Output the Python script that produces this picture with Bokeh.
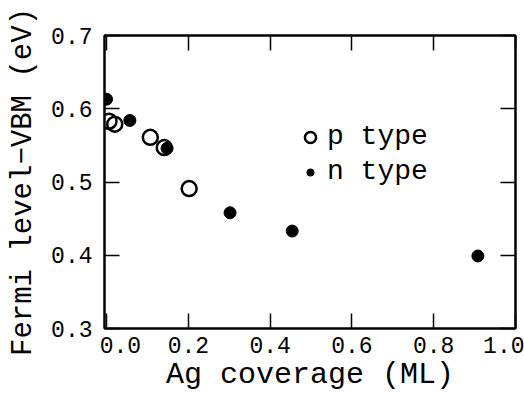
from bokeh.plotting import figure
from bokeh.models import (Range1d, LinearAxis, Legend, LegendItem, FixedTicker,
                          NumeralTickFormatter, CustomJSTickFormatter, Title)
from bokeh.embed import file_html
from bokeh.resources import INLINE

# p-type (open circles)
p_x = [0.006, 0.020, 0.107, 0.141, 0.202]
p_y = [0.583, 0.579, 0.561, 0.547, 0.491]
# n-type (filled circles)
n_x = [0.000, 0.057, 0.148, 0.302, 0.454, 0.908]
n_y = [0.613, 0.584, 0.546, 0.458, 0.433, 0.399]

x_ticks = [0.0, 0.2, 0.4, 0.6, 0.8, 1.0]
y_ticks = [0.3, 0.4, 0.5, 0.6, 0.7]
x_title = "Ag coverage (ML)"
y_title = "Fermi level\u2212VBM (eV)"

FONT = "Liberation Mono"
NB = "\u00a0"

p = figure(width=524, height=393, output_backend="svg", toolbar_location=None,
           x_range=Range1d(-0.005, 1.0), y_range=Range1d(0.3, 0.7),
           min_border_left=104, min_border_right=9, min_border_top=35, min_border_bottom=65,
           y_axis_label=y_title)
p.xgrid.visible = False
p.ygrid.visible = False
p.outline_line_color = "black"
p.outline_line_width = 2
p.background_fill_color = "white"
p.border_fill_color = "white"

def style_axis(ax, ticks, show_labels):
    ax.ticker = FixedTicker(ticks=ticks)
    ax.major_tick_in = 15
    ax.major_tick_out = 0
    ax.minor_tick_line_color = None
    ax.major_tick_line_width = 1.5
    ax.major_tick_line_color = "black"
    ax.axis_line_width = 2
    ax.axis_line_color = "black"
    ax.major_label_text_font = FONT
    ax.major_label_text_color = "black"
    ax.axis_label_text_font = FONT
    ax.axis_label_text_font_style = "normal"
    ax.axis_label_text_color = "black"
    if show_labels:
        ax.formatter = NumeralTickFormatter(format="0.0")
    else:
        ax.formatter = CustomJSTickFormatter(code="return ''")
        ax.major_label_standoff = 0

style_axis(p.xaxis[0], x_ticks, True)
style_axis(p.yaxis[0], y_ticks, True)
xa = p.xaxis[0]
xa.major_label_text_font_size = "23px"
xa.major_label_standoff = 5
xa.major_label_overrides = {0.0: NB * 2 + "0.0"}
ya = p.yaxis[0]
ya.major_label_text_font_size = "23px"
ya.major_label_standoff = 12
ya.axis_label_text_font_size = "29px"
ya.axis_label_standoff = 8

top = LinearAxis()
right = LinearAxis()
style_axis(top, x_ticks, False)
style_axis(right, y_ticks, False)
p.add_layout(top, "above")
p.add_layout(right, "right")

# x-axis title, set low near the page bottom as in the reference
p.add_layout(Title(text=x_title, align="center", vertical_align="bottom",
                   standoff=-14, text_font=FONT, text_font_size="30px",
                   text_font_style="normal", text_color="black"), "below")

pr = p.scatter(p_x, p_y, marker="circle", size=15, fill_color=None,
               line_color="black", line_width=2.5)
nr = p.scatter(n_x, n_y, marker="circle", size=12, fill_color="black",
               line_color="black")

def make_legend(label, r, gsize, loc, standoff):
    lg = Legend(items=[LegendItem(label=label, renderers=[r])], location=loc,
                glyph_width=gsize, glyph_height=gsize, label_height=28,
                label_text_font=FONT, label_text_font_size="28px",
                label_text_color="black",
                label_standoff=standoff, padding=0, margin=0, spacing=0,
                border_line_color=None, background_fill_alpha=0)
    p.add_layout(lg)

make_legend("p type", pr, 28, (192, 176), 3)
make_legend("n type", nr, 18, (197, 141), 8)

open("out.html", "w").write(file_html(p, INLINE))
